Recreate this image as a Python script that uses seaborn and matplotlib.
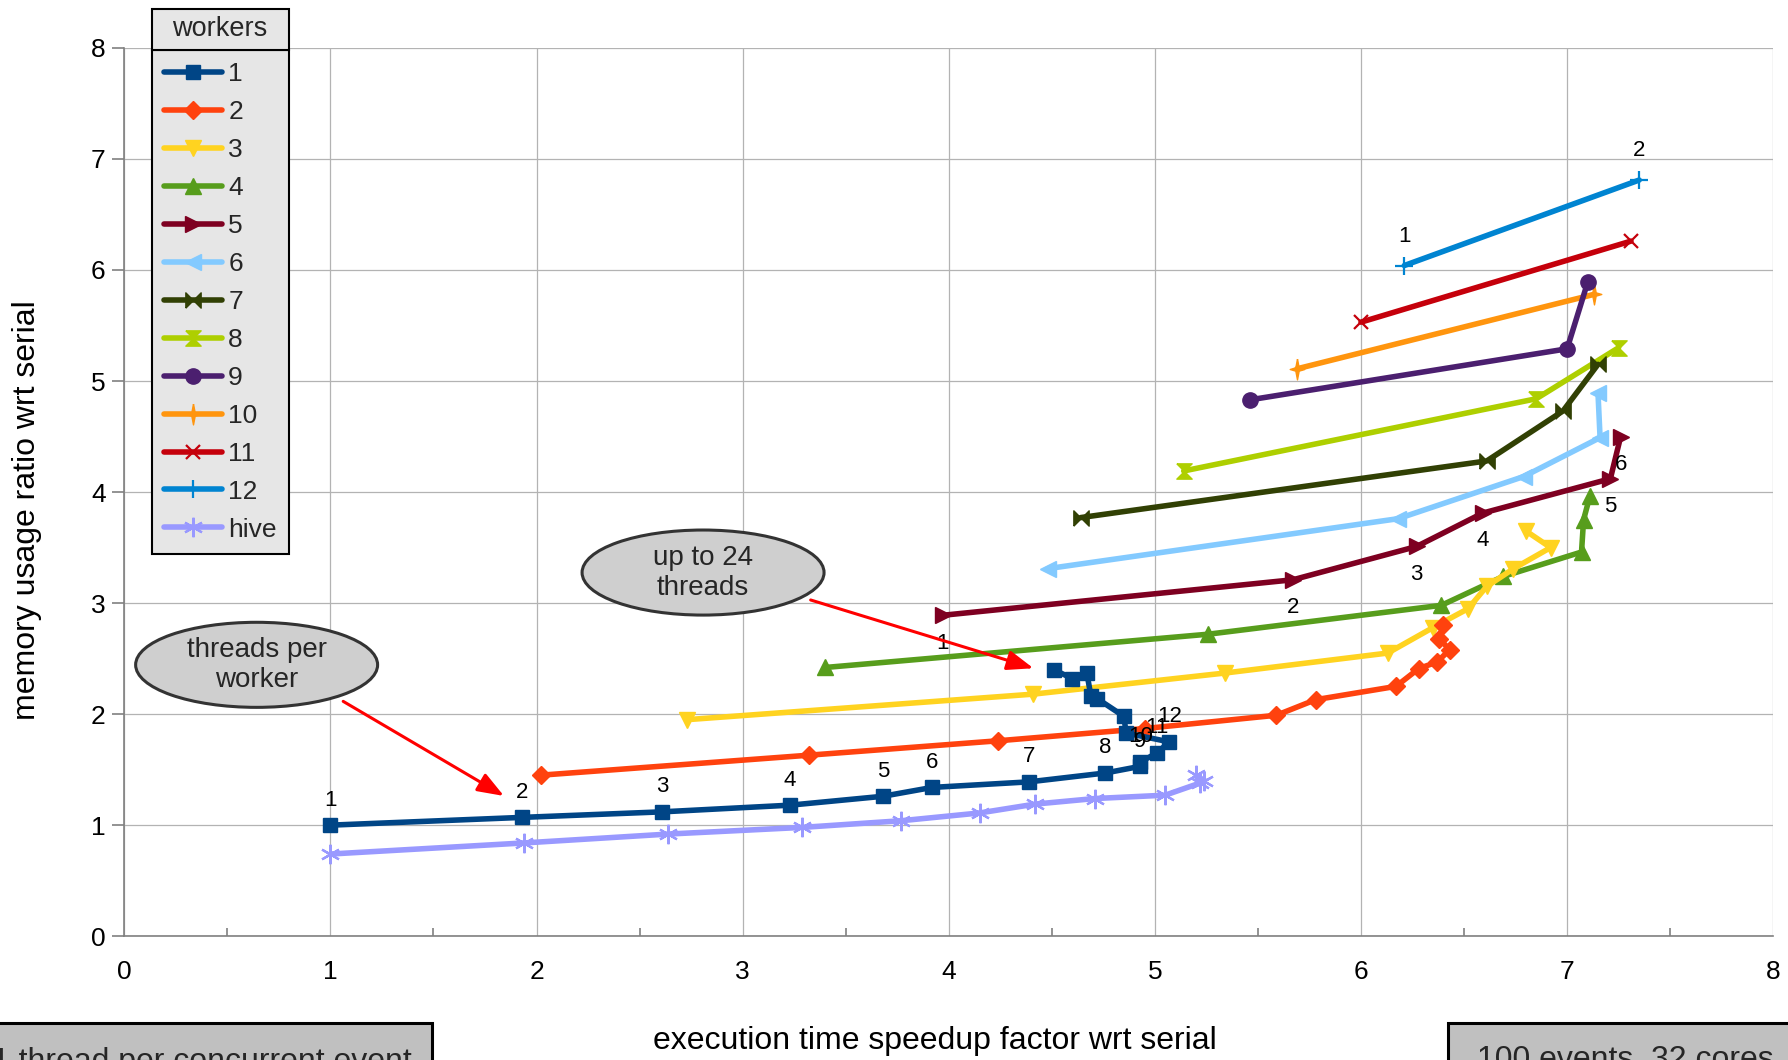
import numpy as np
import pandas as pd
import matplotlib
matplotlib.use("Agg")
import matplotlib.pyplot as plt
import seaborn as sns
from matplotlib.patches import Ellipse, Rectangle
from matplotlib.ticker import MultipleLocator

# ---------- values ----------
# x = execution time speedup, y = memory usage ratio (both wrt serial)
w1_x = [1.00, 1.93, 2.61, 3.23, 3.68, 3.92, 4.39, 4.76, 4.93, 4.93, 5.01, 5.07, 4.86, 4.85, 4.72, 4.69, 4.67, 4.60, 4.51]
w1_y = [1.00, 1.07, 1.12, 1.18, 1.26, 1.34, 1.39, 1.47, 1.53, 1.57, 1.65, 1.75, 1.83, 1.98, 2.14, 2.16, 2.37, 2.32, 2.40]
w1_labels = ["1", "2", "3", "4", "5", "6", "7", "8", "9", "10", "11", "12"]

w2_x = [2.02, 3.32, 4.24, 4.95, 5.59, 5.78, 6.17, 6.28, 6.37, 6.43, 6.38, 6.40]
w2_y = [1.45, 1.63, 1.76, 1.87, 1.99, 2.13, 2.25, 2.41, 2.47, 2.58, 2.68, 2.80]

w3_x = [2.73, 4.41, 5.34, 6.13, 6.35, 6.52, 6.61, 6.74, 6.92, 6.80]
w3_y = [1.95, 2.18, 2.37, 2.55, 2.78, 2.95, 3.15, 3.31, 3.50, 3.65]

w4_x = [3.40, 5.26, 6.39, 6.69, 7.07, 7.08, 7.11]
w4_y = [2.42, 2.72, 2.98, 3.24, 3.46, 3.75, 3.96]

w5_x = [3.97, 5.67, 6.27, 6.59, 7.21, 7.26]
w5_y = [2.89, 3.21, 3.51, 3.81, 4.12, 4.50]
w5_labels = ["1", "2", "3", "4", "5", "6"]

w6_x = [4.48, 6.18, 6.79, 7.16, 7.15]
w6_y = [3.31, 3.76, 4.14, 4.49, 4.89]

w7_x = [4.64, 6.61, 6.98, 7.15]
w7_y = [3.77, 4.28, 4.73, 5.15]

w8_x = [5.14, 6.85, 7.25]
w8_y = [4.19, 4.84, 5.30]

w9_x = [5.46, 7.00, 7.10]
w9_y = [4.83, 5.29, 5.89]

w10_x = [5.69, 7.13]
w10_y = [5.11, 5.78]

w11_x = [6.00, 7.31]
w11_y = [5.53, 6.26]

w12_x = [6.21, 7.35]
w12_y = [6.04, 6.81]
w12_labels = ["1", "2"]

hive_x = [1.00, 1.94, 2.64, 3.29, 3.77, 4.15, 4.42, 4.71, 5.05, 5.22, 5.20, 5.24]
hive_y = [0.74, 0.84, 0.92, 0.98, 1.04, 1.11, 1.19, 1.24, 1.27, 1.38, 1.45, 1.40]

# custom markers (LibreOffice style)
bowtie = [(-1, -1), (-1, 1), (1, -1), (1, 1), (-1, -1)]
hourglass = [(-1, 1), (1, 1), (-1, -1), (1, -1), (-1, 1)]
star4 = [(0, 1), (0.16, 0.16), (0.7, 0), (0.16, -0.16), (0, -1),
         (-0.16, -0.16), (-0.7, 0), (-0.16, 0.16), (0, 1)]

# name, x, y, colour, marker, size, edge width
series = [
    ("1", w1_x, w1_y, "#004586", "s", 10, 1),
    ("2", w2_x, w2_y, "#ff420e", "D", 9, 1),
    ("3", w3_x, w3_y, "#ffd320", "v", 11, 1),
    ("4", w4_x, w4_y, "#579d1c", "^", 11, 1),
    ("5", w5_x, w5_y, "#7e0021", ">", 11, 1),
    ("6", w6_x, w6_y, "#83caff", "<", 11, 1),
    ("7", w7_x, w7_y, "#314004", bowtie, 11, 1),
    ("8", w8_x, w8_y, "#aecf00", hourglass, 11, 1),
    ("9", w9_x, w9_y, "#4b1f6f", "o", 11, 1),
    ("10", w10_x, w10_y, "#ff950e", star4, 15, 1),
    ("11", w11_x, w11_y, "#c5000b", "x", 10, 1.6),
    ("12", w12_x, w12_y, "#0084d1", "+", 13, 1.6),
    ("hive", hive_x, hive_y, "#9999ff", (6, 2, 0), 14, 1.6),
]

sns.set_theme(style="whitegrid")
plt.rcParams["font.family"] = ["Liberation Sans", "DejaVu Sans"]

W, H = 1788, 1060
fig = plt.figure(figsize=(W / 100, H / 100), dpi=100)
ax = fig.add_axes([124.3 / W, 1 - 936.2 / H, 1648.9 / W, 888.3 / H])

handles = {}
for i, (name, xs, ys, col, mk, ms, mew) in enumerate(series):
    df = pd.DataFrame({"x": xs, "y": ys})
    sns.lineplot(data=df, x="x", y="y", sort=False, estimator=None, ax=ax,
                 color=col, lw=4, marker=mk, markersize=ms,
                 markerfacecolor=col, markeredgecolor=col, markeredgewidth=mew,
                 label=name, zorder=20 - i)
    handles[name] = ax.lines[-1]

# data labels (threads per worker)
def label_points(xs, ys, labels, dy):
    for x, y, t in zip(xs, ys, labels):
        ax.annotate(t, (x, y), xytext=(0, dy), textcoords="offset points",
                    ha="center", va="center", fontsize=16, color="black", zorder=30)

label_points(w1_x, w1_y, w1_labels, 18)
label_points(w5_x, w5_y, w5_labels, -20)
label_points(w12_x, w12_y, w12_labels, 21)

# axes
ax.set_xlim(0, 8)
ax.set_ylim(0, 8)
ax.xaxis.set_major_locator(MultipleLocator(1))
ax.xaxis.set_minor_locator(MultipleLocator(0.5))
ax.yaxis.set_major_locator(MultipleLocator(1))
ax.grid(True, which="major", color="#b3b3b3", lw=0.9)
ax.grid(False, which="minor")
ax.set_axisbelow(True)
for s in ["top", "right"]:
    ax.spines[s].set_visible(False)
for s in ["left", "bottom"]:
    ax.spines[s].set_color("#808080")
    ax.spines[s].set_linewidth(1.2)
ax.tick_params(axis="x", which="major", direction="out", length=8, width=1.2,
               color="#808080", labelsize=19, pad=9, labelcolor="black")
ax.tick_params(axis="x", which="minor", direction="in", length=6, width=1.2,
               color="#808080", bottom=True)
ax.tick_params(axis="y", which="major", direction="out", length=8.5, width=1.2,
               color="#808080", labelsize=19, pad=5, labelcolor="black", left=True)
ax.set_xlabel("execution time speedup factor wrt serial", fontsize=23, color="black")
ax.set_ylabel("memory usage ratio wrt serial", fontsize=23, color="black")
ax.xaxis.set_label_coords((935 - 124.3) / 1648.9, (936.2 - 1026) / 888.3)
ax.yaxis.set_label_coords((42 - 124.3) / 1648.9, (936.2 - 509.7) / 888.3)

# callouts
for cx, cy, txt in [(0.642, 2.444, "threads per\nworker"), (2.808, 3.275, "up to 24\nthreads")]:
    ax.add_patch(Ellipse((cx, cy), 1.174, 0.766, facecolor="#cfcfcf",
                         edgecolor="#333333", lw=2.2, zorder=40))
    ax.text(cx, cy, txt, ha="center", va="center", fontsize=20,
            linespacing=1.2, zorder=41)
for (x0, y0), (x1, y1) in [((1.062, 2.115), (1.842, 1.263)), ((3.330, 3.028), (4.411, 2.413))]:
    ax.annotate("", xy=(x1, y1), xytext=(x0, y0), zorder=42,
                arrowprops=dict(arrowstyle="-|>,head_length=0.8,head_width=0.3",
                                mutation_scale=20, color="red", lw=2.2,
                                shrinkA=0, shrinkB=0))

# legend with a separate title box
order = [s[0] for s in series]
leg = ax.legend([handles[n] for n in order], order, loc="upper left",
                bbox_to_anchor=(151.7 / W, 1 - 50 / H), bbox_transform=fig.transFigure,
                borderaxespad=0, fontsize=19, frameon=True, fancybox=False,
                framealpha=1, facecolor="#e6e6e6", edgecolor="black",
                handlelength=2.2, handletextpad=0.25, labelspacing=0.53,
                borderpad=0.45)
leg.get_frame().set_linewidth(1.5)
leg.set_zorder(50)

fig.canvas.draw()
bb = leg.get_frame().get_window_extent()
top = H - 9
title_box = Rectangle((bb.x0 / W, bb.y1 / H), (bb.x1 - bb.x0) / W, (top - bb.y1) / H,
                      transform=fig.transFigure, facecolor="#e6e6e6",
                      edgecolor="black", lw=1.5, zorder=50)
fig.add_artist(title_box)
fig.text((bb.x0 + bb.x1) / 2 / W, (top + bb.y1) / 2 / H, "workers",
         ha="center", va="center", fontsize=19.5, zorder=51)

# boxes cut at the bottom edge
fig.add_artist(Rectangle((-10 / W, 1 - 1075 / H), 441.7 / W, (1075 - 1022.7) / H,
                         transform=fig.transFigure, facecolor="#c0c0c0",
                         edgecolor="black", lw=2.2))
fig.text(-8 / W, 1 - 1070 / H, "1 thread per concurrent event", fontsize=23,
         ha="left", va="baseline")
fig.add_artist(Rectangle((1447.7 / W, 1 - 1075 / H), 360 / W, (1075 - 1022.7) / H,
                         transform=fig.transFigure, facecolor="#c0c0c0",
                         edgecolor="black", lw=2.2))
fig.text(1477 / W, 1 - 1068 / H, "100 events, 32 cores", fontsize=23,
         ha="left", va="baseline")

fig.savefig("out.png", dpi=100)
